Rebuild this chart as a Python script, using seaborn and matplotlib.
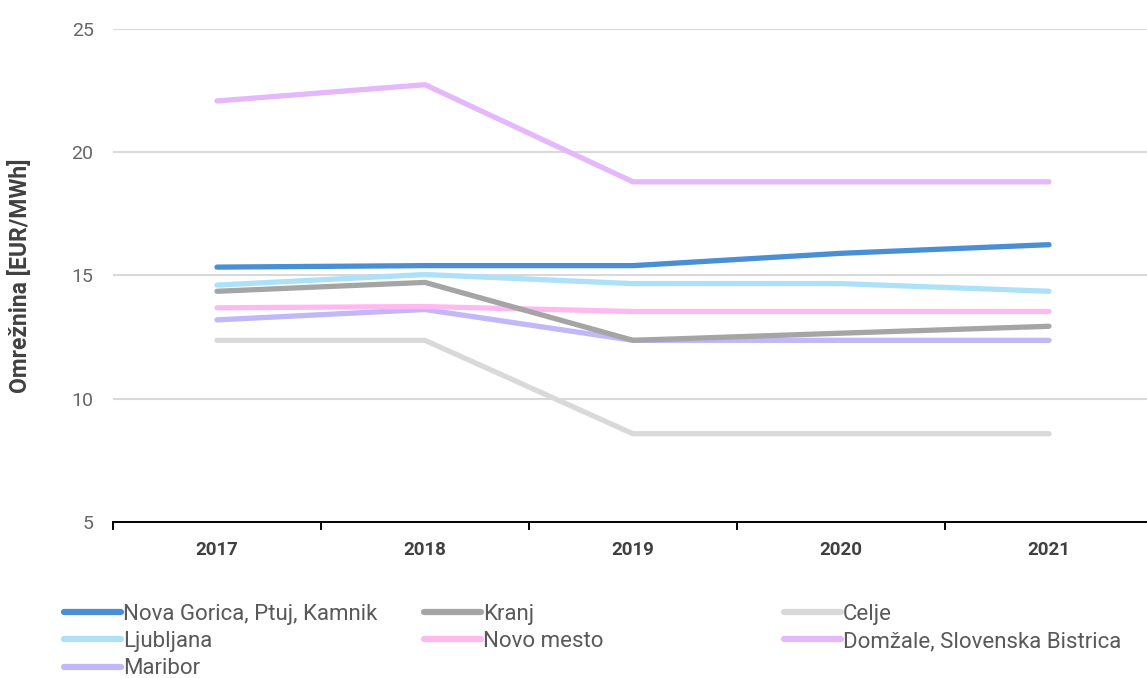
import numpy as np
import pandas as pd
import matplotlib
matplotlib.use('Agg')
import matplotlib.pyplot as plt
from matplotlib.ticker import FixedLocator
import seaborn as sns

years = [2017, 2018, 2019, 2020, 2021]
series_names = [
    'Nova Gorica, Ptuj, Kamnik', 'Kranj', 'Celje',
    'Ljubljana', 'Novo mesto', 'Domžale, Slovenska Bistrica',
    'Maribor',
]
nova_gorica = [15.34, 15.40, 15.40, 15.90, 16.25]
kranj = [14.36, 14.72, 12.37, 12.66, 12.94]
celje = [12.37, 12.37, 8.58, 8.58, 8.58]
ljubljana = [14.61, 15.04, 14.67, 14.67, 14.36]
novo_mesto = [13.69, 13.74, 13.54, 13.54, 13.54]
domzale = [22.08, 22.74, 18.80, 18.80, 18.80]
maribor = [13.20, 13.62, 12.37, 12.37, 12.37]
colors = ['#4a8ed3', '#a5a5a5', '#d9d9d9', '#ade1f9', '#ffb9f1', '#e4b8fb', '#c1b7f9']

values = [nova_gorica, kranj, celje, ljubljana, novo_mesto, domzale, maribor]
df = pd.DataFrame({
    'year': np.tile(years, len(series_names)),
    'value': np.concatenate(values),
    'series': np.repeat(series_names, len(years)),
})

sns.set_style('white')
plt.rcParams['font.family'] = ['Roboto', 'DejaVu Sans']

fig = plt.figure(figsize=(11.47, 6.78), dpi=100)
ax = fig.add_axes([113 / 1147, 1 - 522 / 678, 1040 / 1147, 493 / 678])

# draw order: last drawn on top
draw_order = ['Celje', 'Domžale, Slovenska Bistrica', 'Maribor', 'Novo mesto',
              'Kranj', 'Ljubljana', 'Nova Gorica, Ptuj, Kamnik']
palette = dict(zip(series_names, colors))
for name in draw_order:
    sns.lineplot(data=df[df['series'] == name], x='year', y='value',
                 color=palette[name], linewidth=3.8, ax=ax,
                 solid_capstyle='round', solid_joinstyle='round', label=name)
ax.get_legend().remove()

ax.set_xlim(2016.5, 2021.5)
ax.set_ylim(5, 25)
ax.set_yticks([5, 10, 15, 20, 25])
ax.yaxis.grid(True, color='#d9d9d9', linewidth=1.5)
ax.set_axisbelow(True)
for s in ['top', 'right', 'left']:
    ax.spines[s].set_visible(False)
ax.spines['bottom'].set_color('black')
ax.spines['bottom'].set_linewidth(1.4)

ax.xaxis.set_major_locator(FixedLocator([2016.5, 2017.5, 2018.5, 2019.5, 2020.5, 2021.5]))
ax.xaxis.set_major_formatter(plt.NullFormatter())
ax.set_xticks(years, minor=True)
ax.set_xticklabels([str(y) for y in years], minor=True)
ax.tick_params(axis='x', which='major', direction='out', length=6, width=1.4,
               color='black', bottom=True)
ax.tick_params(axis='x', which='minor', length=0, pad=14, labelsize=13.5,
               labelcolor='#404040')
for lbl in ax.get_xticklabels(minor=True):
    lbl.set_fontweight('bold')
ax.tick_params(axis='y', length=0, pad=14, labelsize=14, labelcolor='#666666')
ax.set_xlabel('')
ax.set_ylabel('Omrežnina [EUR/MWh]', fontsize=16.5, fontweight='bold',
              color='#404040', labelpad=0)
ax.yaxis.set_label_coords(-81 / 1040, 0.5)

handles = {h.get_label(): h for h in ax.get_lines() if not h.get_label().startswith('_')}
columns = [
    (64, ['Nova Gorica, Ptuj, Kamnik', 'Ljubljana', 'Maribor']),
    (424, ['Kranj', 'Novo mesto']),
    (784, ['Celje', 'Domžale, Slovenska Bistrica']),
]
for x0, names in columns:
    leg = fig.legend([handles[n] for n in names], names,
                     loc='upper left', bbox_to_anchor=(x0 / 1147, 1 - 604 / 678),
                     frameon=False, handlelength=2.55,
                     prop={'size': 16}, handletextpad=0.1, borderpad=0,
                     borderaxespad=0, labelspacing=0.28, labelcolor='#595959')
    for line in leg.get_lines():
        line.set_linewidth(4.5)

fig.savefig('out.png', dpi=100)
